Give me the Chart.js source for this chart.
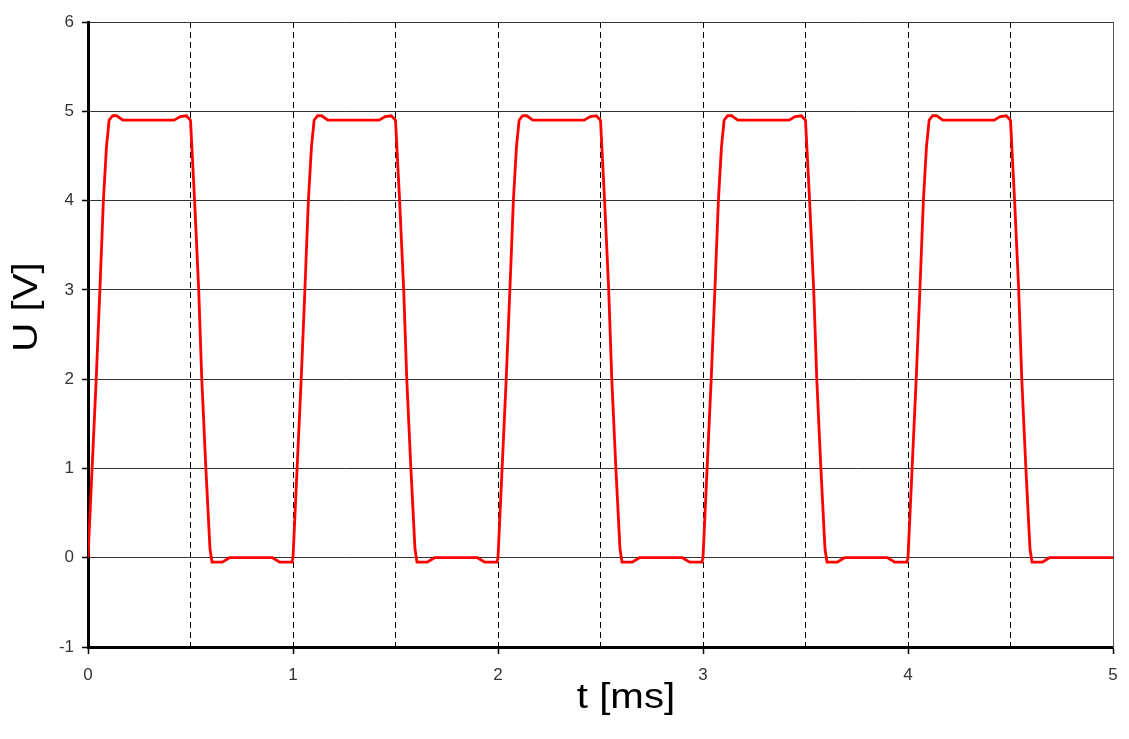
<!DOCTYPE html>
<html>
<head>
<meta charset="utf-8">
<title>U(t)</title>
<script src="https://cdn.jsdelivr.net/npm/chart.js@4/dist/chart.umd.min.js"></script>
<style>
    body { margin: 0; background: #fff; }
    canvas { display: block; }
</style>
</head>
<body>
<canvas id="signalChart" width="1129" height="739"></canvas>
<script>
// time in ms
const timeMs = [
    0, 0.02, 0.04, 0.058, 0.075, 0.09, 0.103, 0.12, 0.14, 0.17, 0.42, 0.45, 0.48, 0.5, 0.52, 0.54, 0.555, 0.575, 0.595, 0.605, 0.655, 0.69, 0.9, 0.935, 0.995,
    1, 1.02, 1.04, 1.058, 1.075, 1.09, 1.103, 1.12, 1.14, 1.17, 1.42, 1.45, 1.48, 1.5, 1.52, 1.54, 1.555, 1.575, 1.595, 1.605, 1.655, 1.69, 1.9, 1.935, 1.995,
    2, 2.02, 2.04, 2.058, 2.075, 2.09, 2.103, 2.12, 2.14, 2.17, 2.42, 2.45, 2.48, 2.5, 2.52, 2.54, 2.555, 2.575, 2.595, 2.605, 2.655, 2.69, 2.9, 2.935, 2.995,
    3, 3.02, 3.04, 3.058, 3.075, 3.09, 3.103, 3.12, 3.14, 3.17, 3.42, 3.45, 3.48, 3.5, 3.52, 3.54, 3.555, 3.575, 3.595, 3.605, 3.655, 3.69, 3.9, 3.935, 3.995,
    4, 4.02, 4.04, 4.058, 4.075, 4.09, 4.103, 4.12, 4.14, 4.17, 4.42, 4.45, 4.48, 4.5, 4.52, 4.54, 4.555, 4.575, 4.595, 4.605, 4.655, 4.69, 5
];

// voltage in V
const voltage = [
    0, 1.0, 2.0, 3.0, 4.0, 4.6, 4.9, 4.95, 4.95, 4.9, 4.9, 4.94, 4.95, 4.9, 4.0, 3.0, 2.0, 1.0, 0.1, -0.05, -0.05, 0, 0, -0.05, -0.05,
    0, 1.0, 2.0, 3.0, 4.0, 4.6, 4.9, 4.95, 4.95, 4.9, 4.9, 4.94, 4.95, 4.9, 4.0, 3.0, 2.0, 1.0, 0.1, -0.05, -0.05, 0, 0, -0.05, -0.05,
    0, 1.0, 2.0, 3.0, 4.0, 4.6, 4.9, 4.95, 4.95, 4.9, 4.9, 4.94, 4.95, 4.9, 4.0, 3.0, 2.0, 1.0, 0.1, -0.05, -0.05, 0, 0, -0.05, -0.05,
    0, 1.0, 2.0, 3.0, 4.0, 4.6, 4.9, 4.95, 4.95, 4.9, 4.9, 4.94, 4.95, 4.9, 4.0, 3.0, 2.0, 1.0, 0.1, -0.05, -0.05, 0, 0, -0.05, -0.05,
    0, 1.0, 2.0, 3.0, 4.0, 4.6, 4.9, 4.95, 4.95, 4.9, 4.9, 4.94, 4.95, 4.9, 4.0, 3.0, 2.0, 1.0, 0.1, -0.05, -0.05, 0, 0
];

const xTitle = 't [ms]';
const yTitle = 'U [V]';

const fontFamily = '"Liberation Sans", Arial, sans-serif';

// axis titles drawn by hand: they sit off the chart-area centre in the original
const axisTitles = {
    id: 'axisTitles',
    afterDraw(chart) {
        const ctx = chart.ctx;
        ctx.save();
        ctx.fillStyle = '#000';
        ctx.font = '35px ' + fontFamily;
        ctx.textAlign = 'center';
        ctx.textBaseline = 'alphabetic';

        ctx.save();
        ctx.translate(626, 708);
        ctx.scale(1.15, 1);
        ctx.fillText(xTitle, 0, 0);
        ctx.restore();

        ctx.save();
        ctx.translate(37, 307);
        ctx.rotate(-Math.PI / 2);
        ctx.scale(1.15, 1);
        ctx.fillText(yTitle, 0, 0);
        ctx.restore();

        ctx.restore();
    }
};

function createSignalChart() {
    const canvas = document.getElementById('signalChart');
    const points = timeMs.map((t, i) => ({ x: t, y: voltage[i] }));

    new Chart(canvas, {
        type: 'line',
        data: {
            datasets: [{
                data: points,
                borderColor: '#ff0000',
                borderWidth: 2.8,
                pointRadius: 0,
                tension: 0,
                fill: false
            }]
        },
        options: {
            responsive: false,
            animation: false,
            devicePixelRatio: 1,
            layout: { padding: { top: 22, left: 0, right: 0, bottom: 0 } },
            plugins: {
                legend: { display: false },
                tooltip: { enabled: false }
            },
            scales: {
                x: {
                    type: 'linear',
                    min: 0,
                    max: 5,
                    afterFit: scale => { scale.height = 92; },
                    ticks: {
                        stepSize: 0.5,
                        autoSkip: false,
                        maxRotation: 0,
                        padding: 11,
                        color: '#333',
                        font: { family: fontFamily, size: 17 },
                        callback: value => (value % 1 === 0 ? value : '')
                    },
                    grid: {
                        color: ctx => (ctx.tick && ctx.tick.value === 5 ? 'rgba(0,0,0,0)' : '#000'),
                        lineWidth: 1,
                        tickLength: 7,
                        tickColor: ctx => (ctx.tick && ctx.tick.value % 1 === 0 ? '#000' : 'rgba(0,0,0,0)'),
                        tickWidth: 1.5
                    },
                    border: { display: true, color: '#000', width: 3, dash: [6, 4] }
                },
                y: {
                    min: -1,
                    max: 6,
                    afterFit: scale => { scale.width = 88; },
                    ticks: {
                        stepSize: 1,
                        padding: 8,
                        color: '#333',
                        font: { family: fontFamily, size: 17 }
                    },
                    grid: {
                        color: '#333',
                        lineWidth: 1,
                        tickLength: 6,
                        tickColor: '#000',
                        tickWidth: 1.5
                    },
                    border: { display: true, color: '#000', width: 3 }
                },
                yRight: {
                    position: 'right',
                    min: -1,
                    max: 6,
                    afterFit: scale => { scale.width = 16; },
                    ticks: { display: false },
                    grid: { display: false, drawTicks: false },
                    border: { display: true, color: '#555', width: 1 }
                }
            }
        },
        plugins: [axisTitles]
    });
}

createSignalChart();
</script>
</body>
</html>
